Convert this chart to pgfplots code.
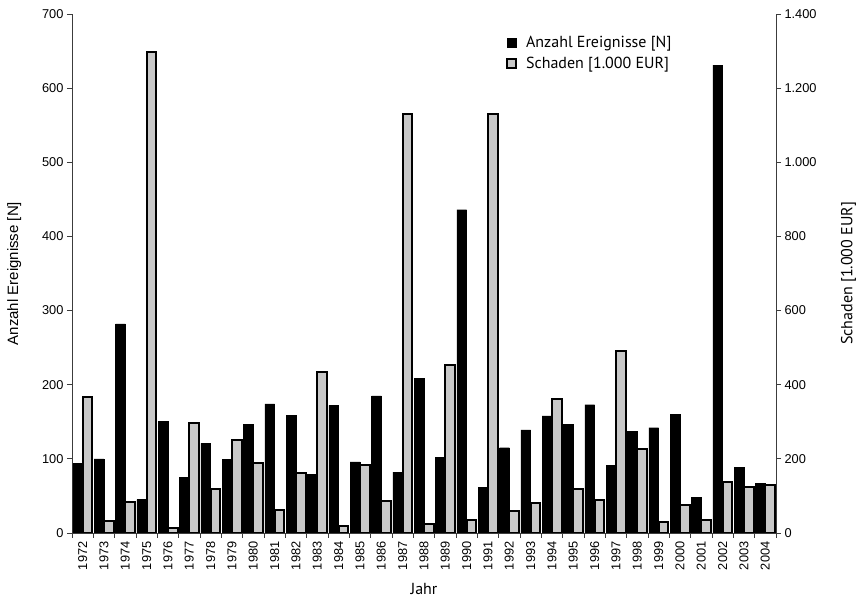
\documentclass[border=0pt]{standalone}
\usepackage{fontspec}
\setmainfont{Liberation Sans}
\newfontfamily\myriad{PT Sans}
\usepackage{pgfplots}
\pgfplotsset{compat=1.18}
\usepackage{pgfplotstable}

\pgfplotstableread{
x N S
0 94 366
1 100 32
2 282 83
3 45 1297
4 151 14
5 75 297
6 121 118
7 99 251
8 147 190
9 174 62
10 159 163
11 79 435
12 172 18
13 96 183
14 185 86
15 82 1130
16 209 25
17 102 453
18 436 36
19 62 1130
20 115 60
21 139 82
22 158 362
23 147 118
24 173 89
25 91 490
26 137 227
27 142 31
28 160 75
29 48 36
30 631 138
31 89 123
32 67 129
}\data

\definecolor{barg}{RGB}{200,200,200}
\definecolor{axg}{RGB}{60,60,60}

\begin{document}
\begin{tikzpicture}
\pgfplotsset{
  sq legend/.style={legend image code/.code={\draw[##1] (0pt,-4.5pt) rectangle (9pt,4.5pt); \path[draw=none,fill=none] (0pt,0pt) -- (17pt,0pt);}},
  common/.style={
    scale only axis, width=704pt, height=519pt,
    xmin=-0.5, xmax=32.5, ymin=0,
    tick align=outside,
    major tick length=5pt,
    axis line style={axg, line width=0.8pt},
    tick style={axg, line width=0.8pt},
    ticklabel style={font=\fontsize{12.8}{14}\selectfont},
    /pgf/number format/assume math mode=true,
    /pgf/number format/1000 sep={.},
    xtick={-0.5,0.5,...,32.5},
    x tick label as interval,
    sq legend,
  }
}
\begin{axis}[common,
  ymax=700, ytick={0,100,...,700},
  axis x line*=bottom, axis y line*=left,
  xticklabels={1972,1973,1974,1975,1976,1977,1978,1979,1980,1981,1982,1983,1984,1985,1986,1987,1988,1989,1990,1991,1992,1993,1994,1995,1996,1997,1998,1999,2000,2001,2002,2003,2004},
  x tick label style={rotate=90, anchor=east},
  ylabel={Anzahl Ereignisse [N]},
  ylabel style={font=\fontsize{15}{18}\selectfont, at={(axis description cs:-0.082,0.5)}, anchor=center},
  xlabel={\myriad Jahr},
  xlabel style={font=\fontsize{16}{18}\selectfont, at={(axis description cs:0.5,-0.108)}, anchor=center},
]
\addplot[ybar, bar width=0.46, bar shift=-0.23, fill=black, draw=black, line width=0.4pt] table[x=x,y=N]{\data};
\coordinate (sw) at (rel axis cs:0,0);
\coordinate (ne) at (rel axis cs:1,1);
\end{axis}
\begin{axis}[common,
  ymax=1400, ytick={0,200,...,1400},
  axis y line*=right, axis x line=none,
  ylabel={\myriad Schaden [1.000 EUR]},
  ylabel style={font=\fontsize{16}{18}\selectfont, at={(axis description cs:1.103,0.5)}, anchor=center},
  legend style={at={(axis description cs:0.612,0.965)}, anchor=north west, draw=none, fill=none,
    font=\myriad\fontsize{16}{18}\selectfont, row sep=3.5pt},
  legend cell align=left,
]
\addlegendimage{fill=black, draw=black, sq legend}
\addlegendentry{Anzahl Ereignisse [N]}
\addplot[ybar, bar width=0.46, bar shift=0.23, fill=barg, draw=black, line width=2pt, sq legend] table[x=x,y=S]{\data};
\addlegendentry{Schaden [1.000 EUR]}
\end{axis}
\pgfresetboundingbox
\path[use as bounding box] ([shift={(-72pt,-67pt)}]sw) rectangle ([shift={(84pt,14pt)}]ne);
\end{tikzpicture}
\end{document}
